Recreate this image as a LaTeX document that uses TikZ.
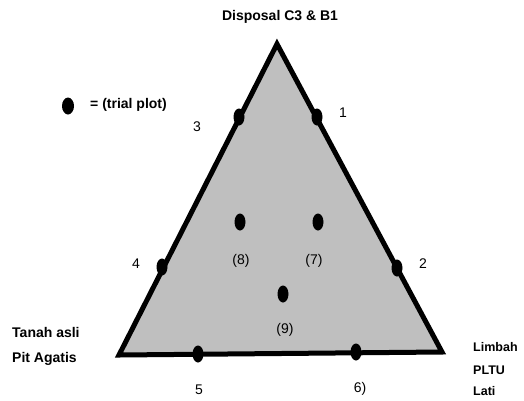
\documentclass[tikz,border=0pt]{standalone}
\usepackage{fontspec}
\setmainfont{Liberation Sans}
\usetikzlibrary{shapes.geometric}
\begin{document}
\begin{tikzpicture}[x=1pt,y=-1pt,
  plot/.style={ellipse,fill=black,inner sep=0pt,minimum width=11pt,minimum height=17pt},
  lbl/.style={font=\fontsize{14}{16}\selectfont\bfseries,inner sep=0pt},
  side/.style={font=\fontsize{12.5}{14}\selectfont\bfseries,inner sep=0pt,anchor=west},
  num/.style={font=\fontsize{14}{16}\selectfont,inner sep=0pt}]
\useasboundingbox (0,0) rectangle (524,400);
\coordinate (A) at (277,44);
\coordinate (L) at (119,355);
\coordinate (R) at (442,352);
\fill[black!25] (A) -- (L) -- (R) -- cycle;
\draw[line width=5pt,line join=miter] (A) -- (L) -- (R) -- cycle;
% title
\node[lbl] (title) at (280,17) {Disposal C3 \& B1};
% legend
\node[plot,minimum width=12pt] (leg) at (68,106) {};
\node[lbl,anchor=west] (legt) at (90,105) {= (trial plot)};
% plots
\node[plot] (p3) at (239,117) {};
\node[plot] (p1) at (317,117) {};
\node[plot] (p8) at (240,222) {};
\node[plot] (p7) at (318,222) {};
\node[plot] (p4) at (162,267) {};
\node[plot] (p2) at (397,268) {};
\node[plot] (p9) at (283,294) {};
\node[plot] (p5) at (198,354) {};
\node[plot] (p6) at (356,352) {};
% numbers
\node[num] (n3) at (197,127) {3};
\node[num] (n1) at (343,113) {1};
\node[num] (n4) at (136,264) {4};
\node[num] (n2) at (423,264) {2};
\node[num] (n8) at (241,261) {(8)};
\node[num] (n7) at (314,261) {(7)};
\node[num] (n9) at (285,330) {(9)};
\node[num] (n5) at (199,390) {5};
\node[num] (n6) at (360,389) {6)};
% side labels
\node[lbl,anchor=west] (tanah) at (12,332) {Tanah asli};
\node[lbl,anchor=west] (pit) at (12,359) {Pit Agatis};
\node[side] (limbah) at (473,347) {Limbah};
\node[side] (pltu) at (473,370) {PLTU};
\node[side] (lati) at (473,391) {Lati};
\end{tikzpicture}
\end{document}
